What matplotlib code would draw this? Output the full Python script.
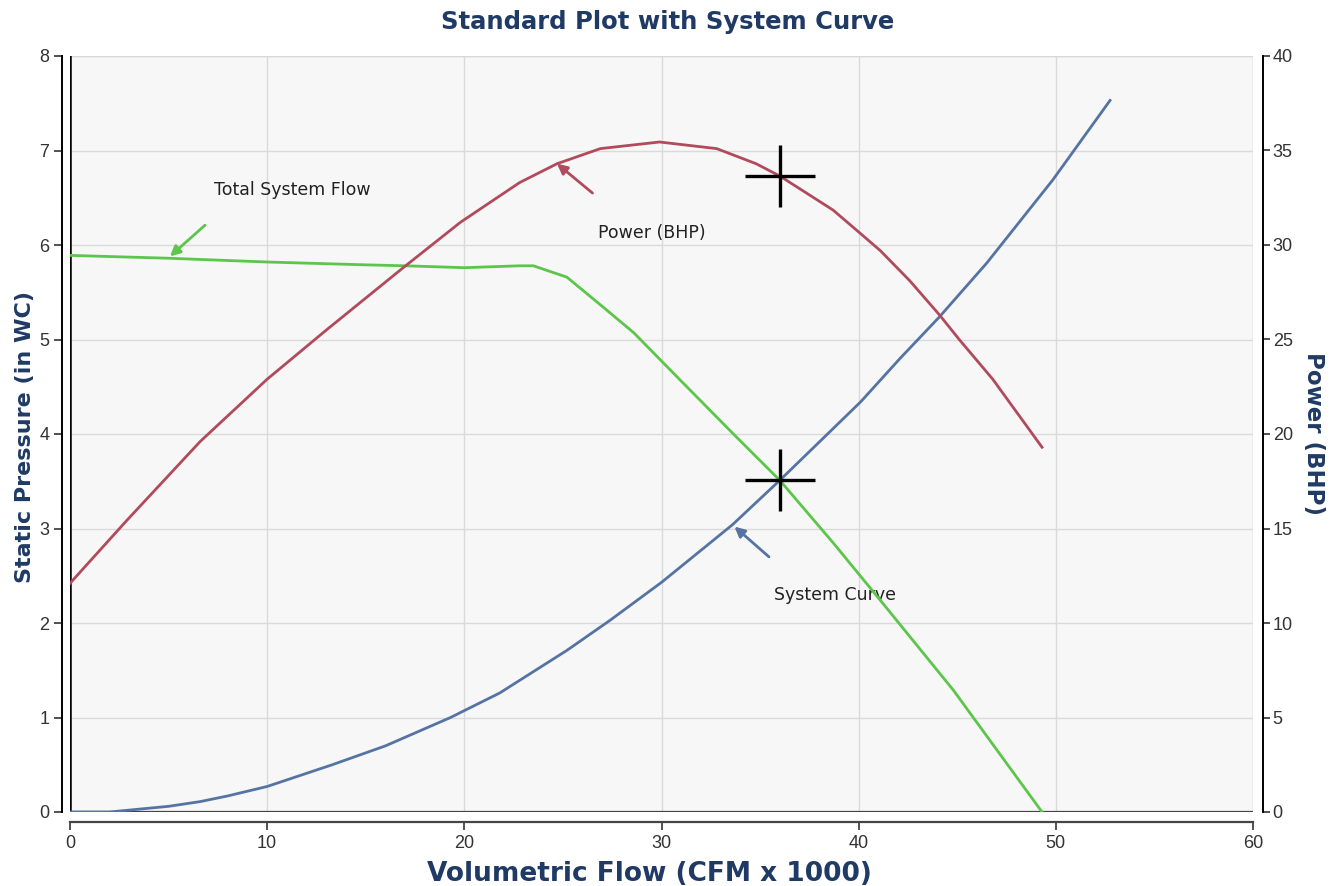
import matplotlib
matplotlib.use("Agg")
import matplotlib.pyplot as plt

plt.rcParams["font.family"] = ["Liberation Sans", "DejaVu Sans"]

# Total system flow (static pressure, in WC)
flow_x = [0, 5, 10, 15, 17, 20, 22.8, 23.5, 25.2, 27, 28.6, 31, 33.6, 36, 38.7, 41.1, 44.8, 49.3]
flow_y = [5.89, 5.86, 5.82, 5.79, 5.78, 5.76, 5.78, 5.78, 5.66, 5.35, 5.07, 4.56, 4.01, 3.51, 2.85, 2.24, 1.29, 0.0]

# System curve (static pressure, in WC)
sys_x = [0, 2, 5, 6.6, 8, 10, 13.3, 16, 19.3, 21.8, 25.2, 27.4, 30, 33.6, 36, 40.1, 42.1, 44.1, 46.5, 49.85, 52.75]
sys_y = [0, 0, 0.06, 0.11, 0.17, 0.27, 0.50, 0.70, 1.0, 1.26, 1.71, 2.03, 2.43, 3.04, 3.51, 4.34, 4.80, 5.24, 5.81, 6.69, 7.53]

# Power curve (BHP, right axis)
pow_x = [0, 2.9, 6.6, 10, 13, 16.9, 19.8, 22.8, 24.7, 26.9, 29.9, 32.8, 34.8, 36, 38.7, 40.1, 41.1,
         42.6, 44.1, 45.1, 46.8, 49.3]
pow_y = [12.1, 15.45, 19.6, 22.9, 25.5, 28.8, 31.2, 33.3, 34.3, 35.1, 35.45, 35.1, 34.3, 33.65, 31.85,
         30.6, 29.7, 28.1, 26.3, 25.0, 22.9, 19.3]

# operating point
op_x = 36
op_pressure = 3.51
op_power = 33.65

navy = "#1f3a64"
tick_color = "#333333"
green = "#5cc64a"
red = "#b14a5c"
blue = "#5573a3"
label_font = "DejaVu Sans"

fig = plt.figure(figsize=(13.3, 8.86), dpi=100)
ax = fig.add_axes([70 / 1330, 74 / 886, 1183 / 1330, 756 / 886])
ax2 = ax.twinx()

ax.set_facecolor("#f7f7f7")
ax.set_xlim(0, 60)
ax.set_ylim(0, 8)
ax2.set_ylim(0, 40)
ax.set_xticks(range(0, 61, 10))
ax.set_yticks(range(0, 9))
ax2.set_yticks(range(0, 41, 5))
ax.grid(color="#dadada", linewidth=1)
ax.set_axisbelow(True)

# axis lines pushed out from the plot area
ax.spines["left"].set_position(("outward", 5.8))
ax.spines["bottom"].set_position(("outward", 7.2))
ax2.spines["right"].set_position(("outward", 7.2))
for s in ["top", "right"]:
    ax.spines[s].set_visible(False)
for s in ["top", "left", "bottom"]:
    ax2.spines[s].set_visible(False)
ax.spines["left"].set_color("black")
ax.spines["bottom"].set_color("#444444")
ax.spines["bottom"].set_linewidth(1.6)
ax.spines["left"].set_linewidth(1.4)
ax2.spines["right"].set_linewidth(1.4)

# plot area border
ax.axvline(0, color="black", linewidth=1.8, zorder=3)
ax.axhline(0, color="#444444", linewidth=1.6, zorder=3)
ax.axhline(8, color="#d8d8d8", linewidth=1, zorder=1)
ax.axvline(60, color="#d8d8d8", linewidth=1, zorder=1)

ax.tick_params(axis="both", direction="out", length=6, width=1.2, colors=tick_color,
               labelsize=13, pad=3)
ax2.tick_params(axis="y", direction="out", length=5, width=1.2, colors=tick_color,
                labelsize=13, pad=2)

ax.plot(flow_x, flow_y, color=green, linewidth=2, zorder=4)
ax.plot(sys_x, sys_y, color=blue, linewidth=2, zorder=4)
ax2.plot(pow_x, pow_y, color=red, linewidth=2, zorder=4)

# crosshairs at the operating point
for a, yv in [(ax, op_pressure), (ax2, op_power)]:
    a.plot([op_x], [yv], marker="_", markersize=50, markeredgewidth=2.4, color="black", zorder=6)
    a.plot([op_x], [yv], marker="|", markersize=44, markeredgewidth=2.4, color="black", zorder=6)

arrow = dict(arrowstyle="-|>", lw=2, mutation_scale=15, shrinkA=0, shrinkB=0)
ax.annotate("", xy=(5.07, 5.88), xytext=(6.85, 6.21), arrowprops=dict(arrow, color=green))
ax.annotate("", xy=(24.7, 6.86), xytext=(26.5, 6.55), arrowprops=dict(arrow, color=red))
ax.annotate("", xy=(33.7, 3.02), xytext=(35.45, 2.70), arrowprops=dict(arrow, color=blue))
ax.text(11.3, 6.58, "Total System Flow", fontsize=12.5, ha="center", va="center",
        color="#222222", family=label_font)
ax.text(29.5, 6.13, "Power (BHP)", fontsize=12.5, ha="center", va="center",
        color="#222222", family=label_font)
ax.text(38.8, 2.30, "System Curve", fontsize=12.5, ha="center", va="center",
        color="#222222", family=label_font)

fig.text(668 / 1330, 1 - 22 / 886, "Standard Plot with System Curve", ha="center",
         va="center", fontsize=17.5, fontweight="bold", color=navy, family=label_font)
fig.text(649 / 1330, 1 - 874 / 886, "Volumetric Flow (CFM x 1000)", ha="center",
         va="center", fontsize=19, fontweight="bold", color=navy, family=label_font)
fig.text(25 / 1330, 1 - 437 / 886, "Static Pressure (in WC)", ha="center", va="center",
         rotation=90, fontsize=16, fontweight="bold", color=navy, family=label_font)
fig.text(1313 / 1330, 1 - 433 / 886, "Power (BHP)", ha="center", va="center",
         rotation=270, fontsize=16.5, fontweight="bold", color=navy, family=label_font)

fig.savefig("out.png", dpi=100, facecolor="white")
